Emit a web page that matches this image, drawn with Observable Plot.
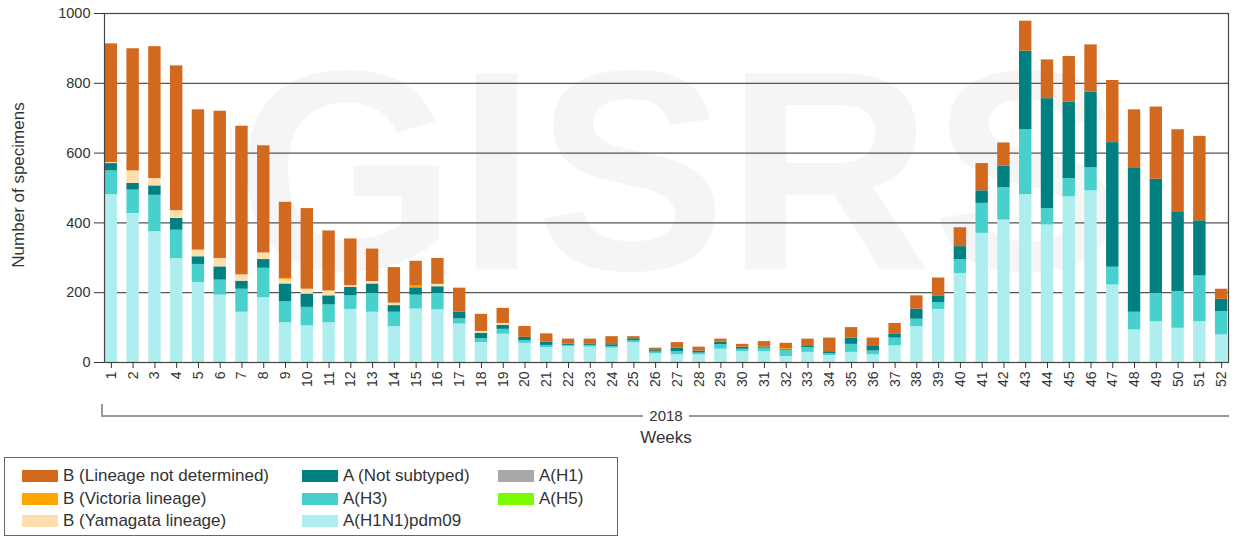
<!DOCTYPE html>
<html>
<head>
<meta charset="utf-8">
<script src="https://cdn.jsdelivr.net/npm/d3@7"></script>
<script src="https://cdn.jsdelivr.net/npm/@observablehq/plot@0.6"></script>
<style>
  html, body { margin: 0; padding: 0; background: #fff; }
  body { width: 1243px; height: 537px; position: relative; overflow: hidden; font-family: "Liberation Sans", Arial, sans-serif; }
  #legend { position: absolute; left: 4px; top: 457px; width: 614px; height: 79px; border: 1px solid #666; box-sizing: border-box; }
  .li { position: absolute; display: flex; align-items: center; font-size: 17px; color: #333; white-space: nowrap; }
  .sw { width: 36px; height: 12px; margin-right: 5px; }
</style>
</head>
<body>
<div id="chart"></div>
<div id="legend"></div>
<script>
const weeks = ["1","2","3","4","5","6","7","8","9","10","11","12","13","14","15","16","17","18","19","20","21","22","23","24","25","26","27","28","29","30","31","32","33","34","35","36","37","38","39","40","41","42","43","44","45","46","47","48","49","50","51","52"];

const seriesNames = ["A(H1N1)pdm09","A(H3)","A(H1)","A(H5)","A (Not subtyped)","B (Yamagata lineage)","B (Victoria lineage)","B (Lineage not determined)"];
const seriesColors = ["#afeeee","#48d1cc","#a9a9a9","#7cfc00","#008080","#ffdead","#ffa500","#d2691e"];

const h1n1 = [481,427,375,298,229,193,144,186,114,105,114,152,144,103,153,151,110,57,81,55,43,46,44,41,57,25,22,22,38,31,31,17,29,20,29,22,48,103,152,255,370,408,481,394,475,492,222,93,117,98,117,79];
const h3 = [68,67,104,81,52,43,66,84,60,53,51,39,54,41,40,47,15,11,14,8,6,3,5,5,5,5,9,5,13,7,10,18,14,5,23,11,22,21,20,40,86,93,186,47,52,66,51,51,81,105,131,67];
const h1 = [0,0,0,0,0,0,0,0,0,0,0,0,0,0,0,0,0,0,0,0,0,0,0,0,0,0,0,0,0,0,0,0,0,0,0,0,0,0,0,0,0,0,0,0,0,0,0,0,0,0,0,0];
const h5 = [0,0,0,0,0,0,0,0,0,0,0,0,0,0,0,0,0,0,0,0,0,0,0,0,0,0,0,0,0,0,0,0,0,0,0,0,0,0,0,0,0,0,0,0,0,0,0,0,0,0,0,0];
const aNotSubtyped = [21,19,27,34,22,38,23,25,51,38,26,24,27,19,21,19,19,16,11,9,9,4,3,5,6,4,10,6,7,6,3,2,5,6,18,15,12,29,19,37,36,62,225,315,219,217,357,412,327,229,158,35];
const bYamagata = [3,36,21,22,19,24,18,19,13,14,14,5,7,7,0,7,0,5,6,0,0,0,0,0,0,0,0,0,0,0,0,0,0,0,0,0,0,0,0,0,0,0,0,0,0,0,0,0,0,0,0,0];
const bVictoria = [0,0,0,0,0,0,0,0,3,0,0,0,0,0,5,0,0,0,0,0,0,0,0,0,0,0,0,0,0,0,0,3,0,0,0,0,0,0,0,0,0,0,0,0,0,0,0,0,0,0,0,0];
const bNotDetermined = [340,350,378,415,402,422,426,307,218,231,172,134,93,102,71,74,69,49,43,31,24,14,15,23,6,7,16,11,9,8,16,15,19,39,30,22,30,38,51,54,78,66,86,111,131,135,178,168,207,235,242,29];

const yTicks = [0,200,400,600,800,1000];
const gridTicks = [200,400,600,800,1000];

const seriesValues = [h1n1, h3, h1, h5, aNotSubtyped, bYamagata, bVictoria, bNotDetermined];
const data = [];
seriesNames.forEach((s, si) => {
  weeks.forEach((w, wi) => {
    data.push({week: w, series: s, value: seriesValues[si][wi]});
  });
});

const plot = Plot.plot({
  width: 1243,
  height: 450,
  marginLeft: 104,
  marginRight: 15,
  marginTop: 13,
  marginBottom: 88,
  style: {fontFamily: "'Liberation Sans', Arial, sans-serif", fontSize: "14px", color: "#333", background: "transparent"},
  x: {domain: weeks, paddingInner: 0.43, paddingOuter: 0.03, label: null},
  y: {domain: [0, 1000], label: null},
  color: {domain: seriesNames, range: seriesColors},
  marks: [
    Plot.text(["GISRS"], {frameAnchor: "middle", text: d => d, fontSize: 285, fontWeight: "bold", fill: "#f5f5f5", dx: 12, dy: -10}),
    Plot.gridY(gridTicks, {stroke: "#555", strokeOpacity: 1, strokeWidth: 1.2}),
    Plot.barY(data, {x: "week", y: "value", fill: "series"}),
    Plot.frame({stroke: "#444", strokeWidth: 1.2}),
    Plot.axisY(yTicks, {tickSize: 10, tickPadding: 4, fontSize: 14.5, tickFormat: d => String(d), label: null}),
    Plot.axisX({tickSize: 6, tickRotate: -90, tickPadding: 3, fontSize: 14, label: null})
  ]
});
document.getElementById("chart").appendChild(plot);

// decorations: grouping bracket, axis titles
const svg = d3.select(plot);
const xr = plot.scale("x").range;
const left = xr[0] - 2, right = xr[1] + 1, mid = (xr[0] + xr[1]) / 2;
const g = svg.append("g");
g.append("path")
  .attr("d", `M${left},404V416H${mid - 23}M${mid + 23},416H${right}`)
  .attr("fill", "none").attr("stroke", "#999").attr("stroke-width", 2);
g.append("text").attr("x", mid).attr("y", 421).attr("text-anchor", "middle")
  .attr("font-size", 15).attr("fill", "#333").text("2018");
g.append("text").attr("x", mid).attr("y", 443).attr("text-anchor", "middle")
  .attr("font-size", 17).attr("fill", "#333").text("Weeks");
g.append("text").attr("transform", "translate(24,185) rotate(-90)").attr("text-anchor", "middle")
  .attr("font-size", 17).attr("fill", "#333").text("Number of specimens");

// legend (3 columns, column-major)
const legendOrder = ["B (Lineage not determined)","B (Victoria lineage)","B (Yamagata lineage)","A (Not subtyped)","A(H3)","A(H1N1)pdm09","A(H1)","A(H5)"];
const colX = [17, 297, 493];
const rowY = [18, 40.5, 63];
const leg = document.getElementById("legend");
legendOrder.forEach((name, i) => {
  const col = Math.floor(i / 3), row = i % 3;
  const item = document.createElement("div");
  item.className = "li";
  item.style.left = colX[col] + "px";
  item.style.top = (rowY[row] - 10) + "px";
  item.style.height = "20px";
  const sw = document.createElement("div");
  sw.className = "sw";
  sw.style.background = seriesColors[seriesNames.indexOf(name)];
  const t = document.createElement("span");
  t.textContent = name;
  item.appendChild(sw); item.appendChild(t);
  leg.appendChild(item);
});
</script>
</body>
</html>
